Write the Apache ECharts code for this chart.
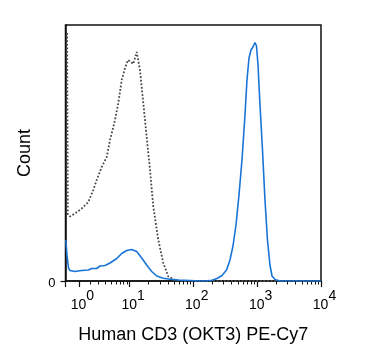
<!DOCTYPE html>
<html lang="en">
<head>
    <meta charset="UTF-8">
    <title>Human CD3 (OKT3) PE-Cy7</title>
    <script src="https://cdn.jsdelivr.net/npm/echarts@6/dist/echarts.min.js"></script>
    <style>
        html, body { margin: 0; padding: 0; background: #fff; }
    </style>
</head>
<body>
<div id="chart" style="width: 375px; height: 362px;"></div>
<script type="text/javascript">

// x positions are in display channels (asinh decades, 0..4), y is count
var unstainedChan  = [0.025, 0.036, 0.070, 0.149, 0.254, 0.357, 0.435, 0.488, 0.567, 0.645, 0.697, 0.775, 0.827, 0.880, 0.932, 0.978, 1.025, 1.061, 1.115, 1.166, 1.218, 1.271, 1.323, 1.375, 1.453, 1.531, 1.609, 1.714, 1.793, 4.0];
var unstainedCount = [248, 67, 64.5, 67.5, 72.5, 79, 91, 101, 114, 124, 141, 161, 178, 201, 213, 221, 219, 217, 229, 211, 178, 144, 111, 74, 41, 18, 4.5, 1, 0, 0];

var cd3Chan  = [0.005, 0.023, 0.047, 0.070, 0.149, 0.254, 0.357, 0.410, 0.488, 0.540, 0.571, 0.618, 0.697, 0.802, 0.880, 0.958, 1.036, 1.115, 1.193, 1.271, 1.350, 1.428, 1.531, 1.636, 1.766, 1.949, 2.106,
                2.184, 2.294, 2.372, 2.450, 2.521, 2.575, 2.622, 2.669, 2.716, 2.763, 2.810, 2.841, 2.873, 2.904, 2.935, 2.967, 2.990, 3.014, 3.045, 3.084, 3.123, 3.162, 3.201, 3.233, 3.280, 3.358, 4.0];
var cd3Count = [41, 26, 13, 10.5, 9.5, 10.5, 11, 12.5, 12.5, 15, 16.5, 15.5, 18, 22.5, 27.5, 30.5, 31.5, 29.5, 23, 16, 9.5, 5, 2.7, 1.7, 1, 0.5, 0,
                0, 0.7, 2.5, 5.5, 11, 21, 35, 56, 86, 121, 166, 201, 223, 231, 234, 238.5, 235, 216, 176, 131, 81, 41, 16, 5, 1.5, 0, 0];

// tick marks in fluorescence units
var majorTicks = [0, 1, 10, 100, 1000, 10000];
var minorTicks = [2, 3, 4, 5, 6, 7, 8, 9,
                  20, 30, 40, 50, 60, 70, 80, 90,
                  200, 300, 400, 500, 600, 700, 800, 900,
                  2000, 3000, 4000, 5000, 6000, 7000, 8000, 9000];
var labelTicks = [1, 10, 100, 1000, 10000];
var labelExps  = ['0', '1', '2', '3', '4'];

var chanMax = 4;

// asinh display transform, clamped to the axis range
function toChan(v) {
    return Math.min(Math.asinh(v / 2) / Math.LN10, chanMax);
}

function pairs(xs, ys) {
    return xs.map(function (x, i) { return [x, ys[i]]; });
}

var expByChan = {};
labelTicks.forEach(function (v, i) {
    expByChan[toChan(v).toFixed(4)] = labelExps[i];
});

var myChart = echarts.init(document.getElementById('chart'));

var fontFam = '"Liberation Sans", Arial, sans-serif';

var option = {
    animation: false,
    grid: {
        left: 65.5, top: 25, width: 255.5, height: 256,
        show: true, borderColor: '#111', borderWidth: 1.5,
        backgroundColor: 'transparent'
    },
    xAxis: [
        {
            type: 'value', min: 0, max: chanMax, position: 'bottom',
            name: 'Human CD3 (OKT3) PE-Cy7',
            nameLocation: 'middle', nameGap: 45,
            nameTextStyle: { fontSize: 18, color: '#000', fontFamily: fontFam },
            axisLine: { show: true, lineStyle: { color: '#111', width: 1.5 } },
            axisTick: {
                show: true, length: 6, inside: false,
                lineStyle: { color: '#111', width: 1.2 },
                customValues: majorTicks.map(toChan)
            },
            axisLabel: {
                show: true, margin: 8, hideOverlap: false,
                showMinLabel: true, showMaxLabel: true,
                customValues: labelTicks.map(toChan),
                formatter: function (value) {
                    return '{b|10}{s|' + expByChan[value.toFixed(4)] + '}';
                },
                rich: {
                    b: { fontSize: 14, color: '#000', fontFamily: fontFam, padding: [0, 0, 0, 7] },
                    s: { fontSize: 14, color: '#000', fontFamily: fontFam, padding: [0, 0, 18, 0] }
                }
            },
            splitLine: { show: false }
        },
        {
            type: 'value', min: 0, max: chanMax, position: 'bottom',
            axisLine: { show: false },
            axisTick: {
                show: true, length: 3.5, inside: false,
                lineStyle: { color: '#111', width: 1 },
                customValues: minorTicks.map(toChan)
            },
            axisLabel: { show: false },
            splitLine: { show: false }
        }
    ],
    yAxis: {
        type: 'value', min: 0, max: 256,
        name: 'Count',
        nameLocation: 'middle', nameGap: 31,
        nameTextStyle: { fontSize: 18, color: '#000', fontFamily: fontFam },
        axisLine: { show: true, lineStyle: { color: '#111', width: 1.5 } },
        axisTick: {
            show: true, length: 5,
            lineStyle: { color: '#111', width: 1.2 },
            customValues: [0]
        },
        axisLabel: {
            show: true, margin: 10, fontSize: 13, color: '#000', fontFamily: fontFam,
            customValues: [0], verticalAlign: 'top', padding: [-4, 0, 0, 0]
        },
        splitLine: { show: false }
    },
    series: [
        {
            name: 'Unstained',
            type: 'line',
            showSymbol: false,
            data: pairs(unstainedChan, unstainedCount),
            lineStyle: { color: '#4a4a4a', width: 1.8, type: [1.8, 1.8] }
        },
        {
            name: 'CD3 PE-Cy7',
            type: 'line',
            showSymbol: false,
            data: pairs(cd3Chan, cd3Count),
            lineStyle: { color: '#1874d6', width: 1.6 }
        }
    ]
};
myChart.setOption(option);

</script>
</body>
</html>
